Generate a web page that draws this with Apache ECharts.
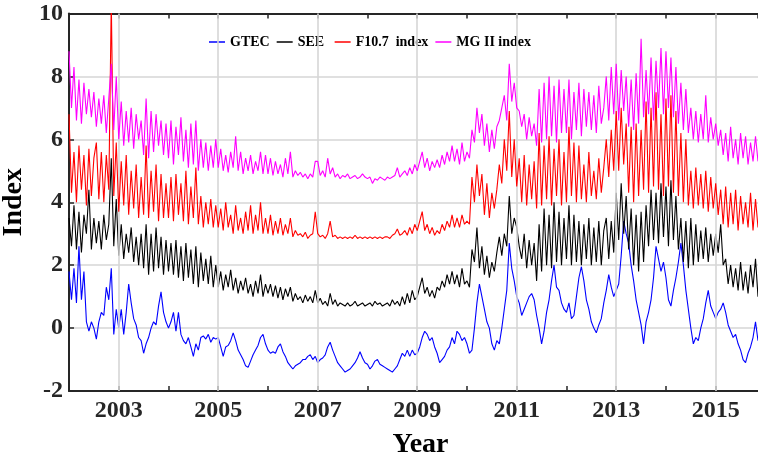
<!DOCTYPE html>
<html>
<head>
<meta charset="utf-8">
<script src="https://cdn.jsdelivr.net/npm/echarts@6/dist/echarts.min.js"></script>
<style>html,body{margin:0;padding:0;background:#fff}#main{width:758px;height:455px}</style>
</head>
<body>
<div id="main"></div>
<script>
// Sampling of the series (decimal years)
const startYear = 2002.0;
const stepYear = 0.05;

// Tick labels shown on the x axis
const labelYears = [2003, 2005, 2007, 2009, 2011, 2013, 2015];
const yTicks = [-2, 0, 2, 4, 6, 8, 10];

const seriesNames = ['GTEC', 'SEE', 'F10.7  index', 'MG II index'];

// GTEC (blue)
const gtec = [
 1.8,0.9,1.9,0.8,2.6,0.9,1.8,0.2,-0.1,0.2,0.0,-0.35,0.2,0.5,0.4,1.3,0.9,1.9,-0.2,0.6,
 0.0,0.6,-0.2,0.5,1.4,0.8,0.3,0.1,-0.3,-0.4,-0.8,-0.5,-0.3,0.0,0.2,0.1,0.7,1.15,0.5,0.2,
 0.0,0.2,0.5,-0.1,0.5,-0.2,-0.4,-0.5,-0.3,-0.6,-0.9,-0.5,-0.7,-0.3,-0.25,-0.35,-0.2,-0.45,-0.3,-0.35,
 -0.3,-0.6,-0.9,-0.6,-0.55,-0.4,-0.15,-0.4,-0.7,-0.85,-1.0,-1.2,-1.25,-1.05,-0.85,-0.7,-0.55,-0.3,-0.2,-0.5,
 -0.7,-0.8,-0.75,-0.8,-0.6,-0.5,-0.75,-0.9,-1.1,-1.2,-1.3,-1.2,-1.15,-1.1,-1.0,-1.0,-0.9,-0.85,-1.0,-0.9,
 -1.1,-1.0,-0.95,-0.85,-0.6,-0.45,-0.7,-0.9,-1.1,-1.2,-1.3,-1.4,-1.35,-1.3,-1.2,-1.1,-0.95,-0.75,-0.95,-1.1,
 -1.15,-1.3,-1.2,-1.05,-1.0,-1.15,-1.2,-1.25,-1.3,-1.35,-1.4,-1.3,-1.2,-1.0,-0.8,-0.9,-0.7,-0.9,-0.7,-0.85,
 -0.8,-0.6,-0.3,-0.1,-0.2,-0.4,-0.3,-0.6,-0.8,-1.1,-1.0,-0.9,-0.7,-0.6,-0.3,-0.5,-0.1,-0.2,-0.4,-0.3,
 -0.5,-0.8,-0.7,0.0,0.8,1.4,1.0,0.6,0.2,0.0,-0.5,-0.7,-0.4,-0.5,0.0,0.6,1.2,2.7,1.9,1.5,
 1.0,0.8,0.4,0.6,0.8,1.0,1.1,0.9,0.4,0.0,-0.5,-0.1,0.5,0.9,1.5,2.0,1.3,1.2,0.8,0.6,
 0.5,0.8,0.3,0.4,1.0,1.6,1.95,1.5,0.9,0.6,0.2,0.0,-0.15,0.1,0.3,0.8,1.2,1.7,1.3,1.0,
 1.2,1.4,2.3,3.4,3.0,2.7,2.0,1.5,0.9,0.5,0.1,-0.5,0.2,0.5,0.9,1.6,2.6,2.2,1.8,2.1,
 1.6,0.9,0.7,1.2,1.6,2.1,2.7,2.0,1.2,0.6,0.0,-0.5,-0.3,-0.4,0.0,0.3,0.8,1.2,0.7,0.5,
 0.3,0.5,0.6,0.8,0.5,0.1,-0.1,-0.3,-0.2,-0.5,-0.7,-1.0,-1.1,-0.8,-0.6,-0.3,0.2,-0.4
];

// SEE (black)
const see = [
 3.5,2.6,3.9,2.5,3.7,2.4,3.6,3.0,4.4,2.5,3.5,2.7,3.4,2.5,3.6,2.8,3.3,5.4,2.6,4.1,
 2.3,3.3,2.2,3.0,2.4,3.2,2.1,2.9,2.0,3.0,1.9,3.3,1.7,3.0,1.8,3.2,1.9,2.9,1.7,2.8,
 1.8,2.7,1.7,2.8,1.6,2.6,1.5,2.7,1.6,2.5,1.4,2.6,1.3,2.4,1.5,2.2,1.4,2.3,1.3,2.0,
 1.3,1.8,1.2,1.7,1.3,1.85,1.2,1.6,1.1,1.5,1.2,1.6,1.1,1.4,1.0,1.5,1.1,1.7,1.0,1.4,
 1.1,1.4,1.0,1.35,0.95,1.3,0.9,1.25,1.0,1.3,0.85,1.1,0.9,1.0,0.8,1.05,0.85,1.0,0.8,1.2,
 0.8,0.95,0.75,0.85,0.7,1.1,0.75,0.9,0.7,0.8,0.75,0.7,0.8,0.7,0.75,0.85,0.7,0.75,0.8,0.7,
 0.75,0.8,0.7,0.85,0.75,0.8,0.7,0.75,0.8,0.7,0.9,0.75,0.85,0.7,1.0,0.75,1.1,0.8,1.2,0.9,
 1.0,1.3,1.6,1.1,1.3,1.0,1.2,0.95,1.3,1.2,1.5,1.3,1.7,1.4,1.8,1.4,1.7,1.3,1.9,1.4,
 1.5,1.3,2.5,2.1,3.2,1.9,2.6,1.7,2.3,1.6,2.1,1.8,2.4,2.9,2.3,3.0,2.6,4.2,3.0,3.5,
 3.2,2.6,2.2,3.0,1.9,2.8,2.0,2.7,1.5,3.3,1.8,3.8,2.0,3.6,1.9,4.0,2.1,3.7,2.0,3.5,
 2.2,3.9,2.0,3.6,2.1,3.4,2.0,3.3,2.2,3.5,2.0,3.2,2.1,3.4,2.0,3.1,3.5,2.2,3.4,2.4,
 4.3,2.8,4.6,3.0,4.2,2.5,3.8,2.0,3.6,1.8,3.7,2.1,3.9,2.6,4.4,2.8,4.3,2.7,4.6,2.9,
 4.5,2.6,4.7,2.8,4.2,2.5,3.5,2.1,3.4,1.9,3.5,2.0,3.3,2.1,3.1,2.2,3.2,2.1,3.0,2.3,
 3.0,2.4,3.3,2.0,2.2,1.4,2.0,1.3,1.9,1.2,2.1,1.2,1.8,1.1,2.0,1.3,2.2,1.0
];

// F10.7 index (red)
const f107 = [
 6.8,4.3,5.6,4.0,5.8,4.4,5.5,3.9,5.7,4.2,5.4,5.9,4.1,5.6,4.0,5.5,4.4,10.4,4.2,5.9,
 3.7,5.3,3.9,5.5,3.6,5.0,3.8,5.2,3.5,4.8,3.6,5.8,3.5,5.0,3.7,5.2,3.4,4.9,3.5,4.6,
 3.5,4.8,3.4,4.9,3.6,4.6,3.4,5.0,3.3,4.5,3.5,5.1,3.3,4.2,3.2,4.0,3.3,4.1,3.2,3.9,
 3.2,3.8,3.1,4.0,3.2,3.6,3.0,3.9,3.1,3.5,3.0,3.7,3.1,3.9,3.0,3.6,3.1,4.0,3.0,3.5,
 3.0,3.6,2.95,3.4,3.0,3.5,2.95,3.3,3.0,3.5,2.9,3.1,2.95,3.0,2.9,3.05,2.85,2.95,3.0,3.7,
 3.0,2.9,2.95,2.85,3.0,3.4,2.9,2.95,2.85,2.9,2.85,2.9,2.85,2.9,2.85,2.95,2.85,2.9,2.85,2.9,
 2.85,2.9,2.85,2.9,2.85,2.9,2.85,2.9,2.9,2.85,2.95,3.0,3.15,2.95,3.0,3.1,2.95,3.2,3.0,3.3,
 3.1,3.4,3.7,3.1,3.3,3.0,3.2,2.95,3.1,3.0,3.3,3.1,3.4,3.2,3.6,3.2,3.5,3.2,3.6,3.3,
 3.4,3.3,4.8,4.0,5.2,4.2,4.9,3.6,4.6,3.5,4.3,3.8,4.4,5.2,4.6,6.0,5.0,6.9,4.8,6.0,
 4.5,5.4,4.0,5.5,3.9,5.2,4.1,5.3,3.8,6.2,3.9,5.8,4.1,6.1,3.9,5.7,4.2,6.0,3.9,5.6,
 4.0,6.4,4.2,5.9,4.0,5.8,4.1,5.2,4.0,5.6,4.2,5.0,4.1,5.4,4.3,5.1,6.0,4.8,6.3,5.0,
 6.9,5.0,7.0,5.2,6.5,4.3,6.4,4.0,6.5,4.2,6.3,4.4,7.2,4.3,7.0,4.5,7.5,4.4,6.8,4.2,
 7.3,4.5,7.4,4.3,6.9,4.2,6.2,4.0,6.0,3.9,5.0,3.8,5.1,3.9,4.9,3.8,5.0,3.7,4.8,3.8,
 4.6,3.6,4.4,3.3,4.5,3.2,4.3,3.3,4.4,3.1,4.2,3.3,4.0,3.2,4.3,3.1,4.1,3.2
];

// MG II index (magenta)
const mg2 = [
 8.8,7.0,8.3,6.6,7.9,6.5,7.8,6.8,7.6,6.7,7.5,6.4,7.3,6.5,7.4,6.2,7.3,8.4,6.3,8.0,
 6.0,7.2,5.8,6.9,5.9,7.0,5.7,6.8,6.0,6.6,5.5,7.3,5.4,6.9,5.6,6.8,5.8,6.6,5.5,6.5,
 5.4,6.6,5.2,6.4,5.5,6.7,5.3,6.3,5.1,6.5,5.2,6.6,5.0,6.0,5.1,5.9,5.0,5.8,5.1,6.0,
 5.1,5.7,5.0,5.5,4.95,5.6,5.1,6.1,5.0,5.6,4.9,5.4,5.0,5.5,4.9,5.3,5.0,5.6,4.9,5.5,
 4.9,5.4,4.85,5.3,4.9,5.2,4.8,5.4,4.9,5.6,4.8,5.0,4.85,4.95,4.8,4.9,4.75,4.9,4.8,5.3,
 5.3,4.85,5.0,4.8,5.4,4.9,5.1,4.8,4.9,4.75,4.85,4.8,4.9,4.75,4.8,4.85,4.75,4.8,4.9,4.8,
 4.75,4.8,4.6,4.75,4.7,4.8,4.75,4.7,4.8,4.75,4.8,4.85,5.1,4.8,4.9,5.0,4.85,5.1,4.9,5.2,
 5.0,5.3,5.6,5.1,5.4,5.0,5.3,5.1,5.35,5.1,5.5,5.2,5.6,5.3,5.8,5.3,5.7,5.2,5.9,5.3,
 5.6,5.4,6.3,5.9,7.0,6.2,6.8,5.8,6.5,5.6,6.3,5.7,6.4,6.6,7.0,7.4,6.6,8.4,7.2,7.8,
 7.0,6.9,6.4,6.8,6.0,6.7,6.1,6.5,5.8,7.6,5.9,7.8,6.0,8.0,6.1,7.7,5.9,7.9,6.2,7.6,
 6.2,7.9,6.0,7.5,6.3,7.8,6.1,7.6,6.4,7.5,6.3,7.4,6.2,7.7,6.5,7.0,8.0,6.6,8.3,6.8,
 8.4,6.6,8.2,6.9,8.0,6.4,7.9,6.3,8.1,6.5,9.2,6.7,8.2,6.8,8.6,6.6,8.5,7.0,8.9,6.8,
 8.8,7.0,8.6,6.7,8.3,6.5,7.8,6.3,7.6,6.2,7.0,6.0,6.9,5.9,6.8,6.0,7.4,5.9,6.7,6.0,
 6.5,5.8,6.3,5.5,6.2,5.3,6.4,5.4,6.0,5.2,6.2,5.4,6.1,5.2,5.9,5.3,6.1,5.3
];

const colors = ['#0000ff', '#000000', '#ff0000', '#ff00ff'];
const FONT = '"Liberation Serif", "Times New Roman", serif';
const AXIS_COLOR = '#262626';
const GRID_COLOR = '#d6d6d6';

function pairs(values) {
  return values.map((v, i) => [+(startYear + i * stepYear).toFixed(2), v]);
}

const chart = echarts.init(document.getElementById('main'), null, { renderer: 'canvas' });

const dataSets = [gtec, see, f107, mg2];
const lineSeries = dataSets.map((vals, k) => ({
  name: seriesNames[k],
  type: 'line',
  data: pairs(vals),
  showSymbol: false,
  symbol: 'none',
  clip: true,
  z: 3 + k,
  lineStyle: { color: colors[k], width: 1.1 },
  itemStyle: { color: colors[k] },
  emphasis: { disabled: true }
}));

const gridSeries = {
  name: 'vgrid',
  type: 'line',
  data: [],
  z: 1,
  silent: true,
  markLine: {
    silent: true,
    symbol: ['none', 'none'],
    label: { show: false },
    animation: false,
    lineStyle: { color: GRID_COLOR, width: 1.6, type: 'solid' },
    data: labelYears.map(y => ({ xAxis: y }))
  }
};

const option = {
  animation: false,
  backgroundColor: '#ffffff',
  grid: { left: 69, right: 0, top: 13.5, bottom: 64, containLabel: false, outerBoundsMode: 'none' },
  legend: {
    data: seriesNames.map(n => ({ name: n, icon: 'rect' })),
    formatter: name => (name === 'SEE' ? 'SEE ' : name),
    left: 204,
    top: 30,
    orient: 'horizontal',
    itemWidth: 16,
    itemHeight: 1.5,
    itemGap: 7,
    padding: [5, 5],
    backgroundColor: '#ffffff',
    textStyle: { fontFamily: FONT, fontWeight: 'bold', fontSize: 14, color: '#000' },
    selectedMode: false
  },
  xAxis: [
    {
      type: 'value', position: 'bottom', min: 2002, max: 2015.85, interval: 1,
      axisLine: { show: true, onZero: false, lineStyle: { color: AXIS_COLOR, width: 2 } },
      axisTick: { show: true, inside: true, length: 5, lineStyle: { color: AXIS_COLOR, width: 1.5 } },
      axisLabel: {
        formatter: v => (labelYears.indexOf(v) >= 0 ? String(v) : ''),
        fontFamily: FONT, fontWeight: 'bold', fontSize: 24, color: AXIS_COLOR, margin: 8,
        showMaxLabel: false
      },
      splitLine: { show: false },
      name: 'Year', nameLocation: 'middle', nameGap: 40,
      nameTextStyle: { fontFamily: FONT, fontWeight: 'bold', fontSize: 28, color: '#000', padding: [0, 0, 0, 14] }
    },
    {
      type: 'value', position: 'top', min: 2002, max: 2015.85, interval: 1,
      axisLine: { show: true, onZero: false, lineStyle: { color: AXIS_COLOR, width: 2 } },
      axisTick: { show: true, inside: true, length: 5, lineStyle: { color: AXIS_COLOR, width: 1.5 } },
      axisLabel: { show: false },
      splitLine: { show: false }
    }
  ],
  yAxis: {
    type: 'value', min: yTicks[0], max: yTicks[yTicks.length - 1], interval: 2,
    axisLine: { show: true, onZero: false, lineStyle: { color: AXIS_COLOR, width: 2 } },
    axisTick: { show: true, inside: true, length: 5, lineStyle: { color: AXIS_COLOR, width: 1.5 } },
    axisLabel: { fontFamily: FONT, fontWeight: 'bold', fontSize: 24, color: AXIS_COLOR, margin: 6 },
    splitLine: { show: true, lineStyle: { color: GRID_COLOR, width: 1.6 } },
    name: 'Index', nameLocation: 'middle', nameGap: 30, nameRotate: 90,
    nameTextStyle: { fontFamily: FONT, fontWeight: 'bold', fontSize: 28, color: '#000' }
  },
  series: [gridSeries].concat(lineSeries)
};

chart.setOption(option);
</script>
</body>
</html>
